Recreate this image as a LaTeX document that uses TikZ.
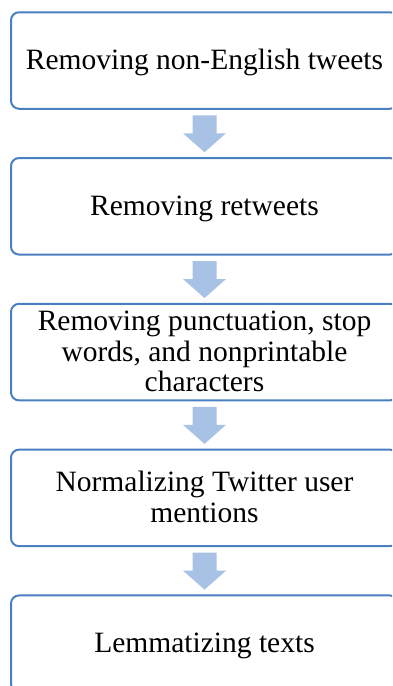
\documentclass[tikz,border=0pt]{standalone}
\usepackage{fontspec}
\setmainfont{Liberation Serif}
\usetikzlibrary{calc}
\definecolor{boxblue}{RGB}{74,128,193}
\definecolor{arrowblue}{RGB}{168,194,229}
\newcommand\blockarrow[2]{%
  \fill[arrowblue] ($(#1.south)+(-12,6.5)$) -- ($(#1.south)+(12,6.5)$)
    -- ($(#1.south)+(12,24.5)$) -- ($(#1.south)+(21.5,24.5)$)
    -- ($(#2.north)+(0,-5.8)$) -- ($(#1.south)+(-21.5,24.5)$)
    -- ($(#1.south)+(-12,24.5)$) -- cycle;}
\newcommand\boxtext[1]{\setbox0\hbox{\begin{tabular}{@{}c@{}}#1\end{tabular}}%
  \raisebox{-2.8pt}[\ht0][\dp0]{\copy0}}
\begin{document}
\begin{tikzpicture}[x=1pt,y=-1pt,
  stepbox/.style={draw=boxblue, line width=2pt, rounded corners=8pt,
    minimum width=387pt, minimum height=96.5pt, inner sep=0pt, outer sep=0pt,
    font=\fontsize{29.5}{30.7}\selectfont}]
\useasboundingbox (0,0) rectangle (392,686);
\clip (0,0) rectangle (392,686);
\node[stepbox] (b1) at (204.5,60.5) {\boxtext{Removing non-English tweets}};
\node[stepbox] (b2) at (204.5,206.3) {\boxtext{Removing retweets}};
\node[stepbox] (b3) at (204.5,352.1) {\boxtext{Removing punctuation, stop\\words, and nonprintable\\characters}};
\node[stepbox] (b4) at (204.5,497.9) {\boxtext{Normalizing Twitter user\\mentions}};
\node[stepbox] (b5) at (204.5,643.7) {\boxtext{Lemmatizing texts}};
\blockarrow{b1}{b2}
\blockarrow{b2}{b3}
\blockarrow{b3}{b4}
\blockarrow{b4}{b5}
\end{tikzpicture}
\end{document}
